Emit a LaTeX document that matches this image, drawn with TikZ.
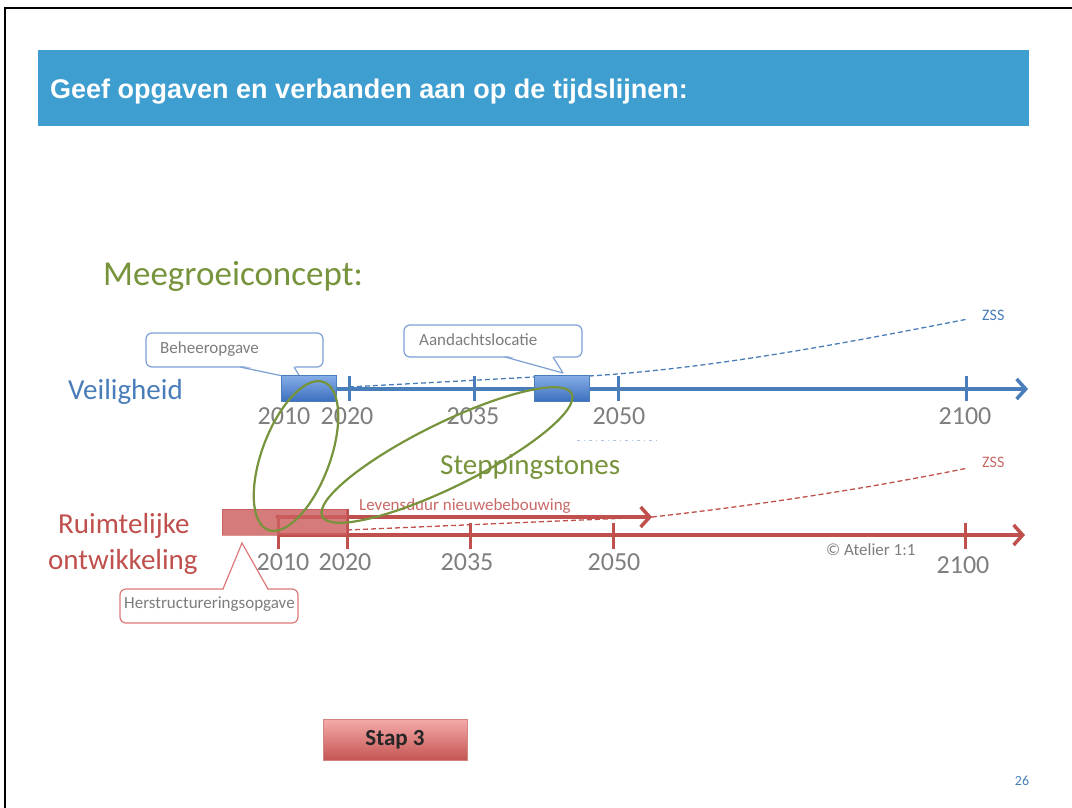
\documentclass[tikz,border=0pt]{standalone}
\usepackage{fontspec}
\setmainfont{Carlito}
\newfontfamily\titlefont{Liberation Sans}
\usetikzlibrary{arrows.meta}

\definecolor{titleblue}{RGB}{62,158,207}
\definecolor{lineblue}{RGB}{74,126,187}
\definecolor{boxblueT}{RGB}{135,175,232}
\definecolor{boxblueB}{RGB}{62,112,192}
\definecolor{linered}{RGB}{192,80,77}
\definecolor{boxred}{RGB}{205,95,95}
\definecolor{grn}{RGB}{119,147,60}
\definecolor{yeargray}{RGB}{127,127,127}
\definecolor{callgray}{RGB}{125,125,125}
\definecolor{callblue}{RGB}{125,160,212}
\definecolor{callred}{RGB}{222,120,120}
\definecolor{btnT}{RGB}{244,170,170}
\definecolor{btnB}{RGB}{196,84,82}

\newcommand{\fs}[1]{\fontsize{#1}{#1}\selectfont}

\tikzset{
  bline/.style={draw=lineblue, line width=3.5pt, -{Straight Barb[length=9pt,width=20pt,line width=3.5pt]}},
  rline/.style={draw=linered, line width=3.5pt, -{Straight Barb[length=9pt,width=20pt,line width=3.5pt]}},
  btick/.style={draw=lineblue, line width=3pt},
  rtick/.style={draw=linered, line width=3pt},
  bdash/.style={draw=lineblue, line width=1.3pt, dash pattern=on 5pt off 3pt},
  rdash/.style={draw=linered, line width=1.3pt, dash pattern=on 5pt off 3pt},
  yearlbl/.style={text=yeargray, font=\fs{26}, inner sep=0pt},
  smalltxt/.style={font=\fs{17}, inner sep=0pt, anchor=base west},
  callout/.style={rectangle, rounded corners=6pt, fill=white, line width=1.2pt, inner sep=0pt},
  bluebox/.style={rectangle, top color=boxblueT, bottom color=boxblueB, draw=lineblue, line width=1pt, inner sep=0pt},
  ring/.style={draw=grn, line width=2.2pt},
  bigtxt/.style={font=\fs{29}, inner sep=0pt, anchor=base west},
}

\begin{document}
\begin{tikzpicture}[x=1pt, y=-1pt]
\useasboundingbox (0,0) rectangle (1072,807);
\fill[white] (0,0) rectangle (1072,807);
% page frame
\draw[black, line width=2.5pt] (5,8) rectangle (1080,815);

% title bar
\node[rectangle, fill=titleblue, minimum width=991pt, minimum height=76pt, inner sep=0pt, anchor=north west] (bar) at (38,50) {};
\node[anchor=base west, inner sep=0pt, text=white, font=\titlefont\bfseries\fs{27}] (title) at (50,98) {Geef opgaven en verbanden aan op de tijdslijnen:};

% headings
\node[font=\fs{35}, text=grn, inner sep=0pt, anchor=base west] (concept) at (103,285) {Meegroeiconcept:};
\node[bigtxt, text=lineblue] (veil) at (68,399) {Veiligheid};
\node[bigtxt, text=linered] (ruim1) at (58,533) {Ruimtelijke};
\node[bigtxt, text=linered] (ruim2) at (48,569) {ontwikkeling};
\node[bigtxt, text=grn] (stepping) at (440,474) {Steppingstones};

% callouts of the safety line
\node[callout, draw=callblue, minimum width=177pt, minimum height=34pt] (beheer) at (234.5,350) {};
\fill[white] (240,365) -- (302,380) -- (294,365) -- cycle;
\draw[callblue, line width=1.2pt, line join=round] (240,367) -- (302,380) -- (294,367);
\node[smalltxt, text=callgray] (beheertxt) at (160,353) {Beheeropgave};

\node[callout, draw=callblue, minimum width=178pt, minimum height=32pt] (aandacht) at (493,341) {};
\fill[white] (505,355) -- (563,373) -- (553,355) -- cycle;
\draw[callblue, line width=1.2pt, line join=round] (505,357) -- (563,373) -- (553,357);
\node[smalltxt, text=callgray] (aandachttxt) at (419,345) {Aandachtslocatie};

% safety time line
\coordinate (bstart) at (281,389);
\coordinate (bend) at (1028,389);
\coordinate (bd1) at (349,387);
\coordinate (bd2) at (534,377);
\coordinate (bd3) at (589,376);
\coordinate (bzss) at (968,319);
\draw[bdash] (bd1) -- (bd2);
\draw[bdash] (bd3) .. controls (720,368) and (860,340) .. (bzss);
\draw[bline] (bstart) -- (bend);
\foreach \x in {349,474,618,966} \draw[btick] (\x,376) -- (\x,401);
\node[bluebox, minimum width=55pt, minimum height=26pt] (bbox1) at (308.5,388) {};
\node[bluebox, minimum width=55pt, minimum height=26pt] (bbox2) at (561.5,388) {};
\node[smalltxt, text=lineblue, font=\fs{16}] (zssb) at (982,320) {ZSS};

\node[yearlbl] (b2010) at (284,416) {2010};
\node[yearlbl] (b2020) at (347,416) {2020};
\node[yearlbl] (b2035) at (473,416) {2035};
\node[yearlbl] (b2050) at (619,416) {2050};
\node[yearlbl] (b2100) at (965,416) {2100};

% faint dash-dot mark
\draw[lineblue!45, line width=0.8pt, dash pattern=on 3pt off 4pt on 1pt off 4pt] (577,440) -- (660,440);

% spatial development time line
\coordinate (rstart) at (278,535);
\coordinate (rend) at (1025,535);
\coordinate (lstart) at (278,517);
\coordinate (lend) at (652,517);
\coordinate (rzss) at (968,468);
\draw[rdash] (347,530) -- (lend);
\draw[rdash] (lend) .. controls (760,505) and (870,488) .. (rzss);
\draw[rline] (rstart) -- (rend);
\draw[rline] (lstart) -- (lend);
\fill[linered] (lstart) circle (2.5pt);
\draw[rtick] (278,515) -- (278,549);
\draw[rtick] (347,509) -- (347,549);
\foreach \x in {470,613,965} \draw[rtick] (\x,523) -- (\x,549);
\node[rectangle, fill=boxred, fill opacity=0.82, draw=linered, draw opacity=0.6, line width=0.8pt, minimum width=125pt, minimum height=26pt, inner sep=0pt] (rbox) at (284.5,522) {};
\node[smalltxt, text=linered!85!white] (leven) at (359,510) {Levensduur nieuwebebouwing};
\node[smalltxt, text=linered!85!white, font=\fs{16}] (zssr) at (982,467) {ZSS};
\node[smalltxt, text=callgray] (atelier) at (826,555) {\textcopyright\ Atelier 1:1};

\node[yearlbl] (r2010) at (283,562) {2010};
\node[yearlbl] (r2020) at (345,562) {2020};
\node[yearlbl] (r2035) at (467,562) {2035};
\node[yearlbl] (r2050) at (614,562) {2050};
\node[yearlbl] (r2100) at (963,565) {2100};

% callout of the spatial line
\node[callout, draw=callred, minimum width=178pt, minimum height=34pt] (herstr) at (209,606) {};
\fill[white] (223,591) -- (242,543) -- (268,591) -- cycle;
\draw[callred, line width=1.2pt, line join=miter] (223,589) -- (242,543) -- (268,589);
\node[smalltxt, text=callgray] (herstrtxt) at (124,608) {Herstructureringsopgave};

% stepping stones rings
\draw[ring, rotate around={69.4:(296,456)}] (296,456) ellipse [x radius=79, y radius=34];
\draw[ring, rotate around={26.2:(447,455)}] (447,455) ellipse [x radius=139, y radius=32];

% step button
\node[rectangle, top color=btnT, bottom color=btnB, draw=linered!70!white, line width=1pt, minimum width=144pt, minimum height=41pt, inner sep=0pt] (stap) at (395,740) {};
\node[font=\bfseries\fs{23}, inner sep=0pt, text=black!85] (staptxt) at (395,740) {Stap 3};

% page number
\node[font=\fs{14}, text=lineblue, inner sep=0pt] (pagenr) at (1022,781) {26};
\end{tikzpicture}
\end{document}
